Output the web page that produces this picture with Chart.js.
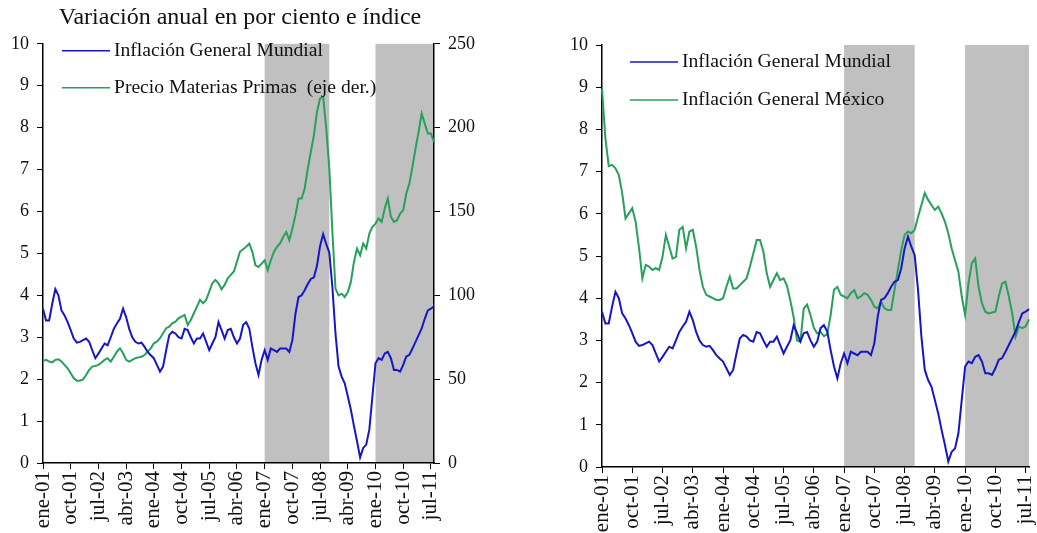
<!DOCTYPE html>
<html>
<head>
<meta charset="utf-8">
<script src="https://cdn.jsdelivr.net/npm/chart.js@4.4.1/dist/chart.umd.min.js"></script>
<style>
  body { margin: 0; background: #fff; }
  canvas { position: absolute; top: 0; }
  #left { left: 0; }
  #right { left: 530px; }
</style>
</head>
<body>
<canvas id="left" width="480" height="533"></canvas>
<canvas id="right" width="507" height="533"></canvas>
<script>
// monthly categories ene-01 .. ago-11
const monthNames = ["ene", "feb", "mar", "abr", "may", "jun", "jul", "ago", "sep", "oct", "nov", "dic"];
const labels = [];
for (let y = 1; y <= 11; y++) {
  for (let m = 0; m < 12; m++) {
    if (y === 11 && m > 7) break;
    labels.push(monthNames[m] + "-" + String(y).padStart(2, "0"));
  }
}

// Inflación General Mundial (%)
const inflacionMundial = [
  3.68, 3.40, 3.40, 3.80, 4.15, 4.00, 3.64, 3.52, 3.36, 3.17,
  2.97, 2.87, 2.89, 2.93, 2.97, 2.89, 2.69, 2.50, 2.61, 2.73,
  2.85, 2.81, 3.00, 3.20, 3.33, 3.44, 3.68, 3.48, 3.20, 3.00,
  2.89, 2.85, 2.87, 2.77, 2.65, 2.57, 2.50, 2.34, 2.18, 2.30,
  2.69, 3.05, 3.13, 3.09, 3.00, 2.97, 3.20, 3.17, 3.00, 2.85,
  2.97, 2.97, 3.09, 2.89, 2.69, 2.85, 3.00, 3.36, 3.17, 2.97,
  3.17, 3.20, 3.00, 2.85, 2.97, 3.29, 3.36, 3.21, 2.77, 2.38,
  2.10, 2.46, 2.69, 2.46, 2.73, 2.69, 2.65, 2.73, 2.73, 2.73,
  2.65, 2.93, 3.56, 3.96, 4.00, 4.12, 4.27, 4.39, 4.43, 4.71,
  5.18, 5.46, 5.22, 5.02, 4.19, 3.09, 2.30, 2.06, 1.90, 1.59,
  1.27, 0.88, 0.52, 0.13, 0.36, 0.44, 0.80, 1.59, 2.38, 2.50,
  2.46, 2.61, 2.65, 2.50, 2.22, 2.22, 2.18, 2.34, 2.54, 2.58,
  2.73, 2.89, 3.05, 3.21, 3.44, 3.64, 3.68, 3.74
];

// Precio Materias Primas (índice, eje der.)
const materiasPrimas = [
  60.9, 61.5, 60.5, 60.0, 61.5, 61.9, 60.5, 58.5, 56.5, 53.5,
  50.5, 49.1, 49.1, 49.9, 52.5, 55.5, 57.5, 57.9, 58.5, 59.9,
  61.5, 62.5, 60.5, 63.4, 66.4, 68.4, 65.4, 61.5, 60.5, 61.5,
  62.5, 63.0, 63.4, 64.4, 66.4, 68.4, 71.4, 72.4, 74.4, 77.4,
  80.4, 81.3, 83.3, 84.3, 86.3, 87.3, 88.3, 82.3, 85.3, 89.3,
  93.3, 97.3, 95.3, 97.3, 102.2, 107.2, 109.2, 107.2, 103.6, 106.2,
  110.2, 112.2, 114.2, 120.1, 126.1, 127.5, 129.0, 130.9, 125.9, 117.9,
  116.9, 118.9, 120.9, 115.0, 120.9, 125.9, 128.9, 130.9, 134.8, 137.8,
  132.9, 139.8, 147.8, 157.7, 157.7, 163.7, 175.6, 185.6, 195.5, 209.4,
  217.4, 218.4, 199.5, 175.6, 137.8, 104.0, 100.0, 101.0, 99.0, 102.0,
  108.0, 119.9, 127.9, 123.9, 130.9, 127.9, 136.8, 140.8, 142.8, 145.8,
  143.8, 151.8, 157.7, 146.8, 143.8, 144.8, 148.8, 150.8, 160.7, 166.7,
  176.6, 187.5, 197.5, 208.4, 202.4, 196.5, 196.5, 191.5
];

// Inflación General México (%)
const inflacionMexico = [
  8.96, 7.80, 7.13, 7.16, 7.08, 6.92, 6.49, 5.89, 6.01, 6.13,
  5.81, 5.20, 4.47, 4.79, 4.75, 4.67, 4.71, 4.67, 4.98, 5.50,
  5.22, 4.94, 4.98, 5.62, 5.69, 5.18, 5.58, 5.62, 5.22, 4.67,
  4.27, 4.08, 4.04, 4.00, 3.96, 3.96, 4.00, 4.27, 4.51, 4.23,
  4.23, 4.31, 4.39, 4.47, 4.75, 5.06, 5.38, 5.38, 5.10, 4.59,
  4.27, 4.43, 4.59, 4.43, 4.47, 4.30, 3.95, 3.55, 3.00, 2.97,
  3.75, 3.85, 3.60, 3.30, 3.17, 3.20, 3.10, 3.15, 3.60, 4.20,
  4.27, 4.08, 4.04, 4.00, 4.12, 4.19, 4.00, 4.04, 4.12, 4.08,
  3.96, 3.80, 3.76, 3.92, 3.76, 3.72, 3.72, 4.19, 4.67, 5.14,
  5.50, 5.58, 5.54, 5.62, 5.93, 6.21, 6.49, 6.33, 6.21, 6.09,
  6.17, 6.01, 5.81, 5.54, 5.18, 4.90, 4.63, 4.04, 3.60, 4.35,
  4.83, 4.94, 4.27, 3.88, 3.68, 3.64, 3.66, 3.68, 4.04, 4.35,
  4.39, 4.04, 3.64, 3.09, 3.33, 3.29, 3.33, 3.50
];

// shaded periods
const shadeStart = ["ene-07", "ene-10"];
const shadeEnd = ["oct-08", "ago-11"];

const azul = "#1616c8";
const verde = "#27a05c";
const serif = '"Liberation Serif", "Times New Roman", serif';

Chart.defaults.font.family = serif;
Chart.defaults.color = "#111";

const bandPlugin = {
  id: "bands",
  beforeDraw(chart) {
    const x = chart.scales.x, a = chart.chartArea, ctx = chart.ctx;
    ctx.save();
    ctx.fillStyle = "#c0c0c0";
    shadeStart.forEach((s, k) => {
      const x1 = x.getPixelForValue(labels.indexOf(s));
      const x2 = x.getPixelForValue(labels.indexOf(shadeEnd[k]));
      ctx.fillRect(x1, a.top, x2 - x1, a.bottom - a.top);
    });
    ctx.restore();
  }
};

function legendPlugin(rows) {
  return {
    id: "legendBox",
    afterDraw(chart) {
      const ctx = chart.ctx, a = chart.chartArea;
      ctx.save();
      ctx.font = "19.6px " + serif;
      ctx.textBaseline = "middle";
      ctx.fillStyle = "#111";
      chart.data.datasets.forEach((ds, k) => {
        const r = rows[k];
        ctx.strokeStyle = ds.borderColor;
        ctx.lineWidth = 1.5;
        ctx.beginPath();
        ctx.moveTo(a.left + r.x, a.top + r.y);
        ctx.lineTo(a.left + r.x + 48, a.top + r.y);
        ctx.stroke();
        ctx.fillText(ds.label, a.left + r.x + 52, a.top + r.y);
      });
      ctx.restore();
    }
  };
}

function xAxis(h) {
  return {
    type: "category",
    offset: false,
    grid: { drawOnChartArea: false, tickLength: 6, color: "#000" },
    border: { color: "#000", width: 1.5 },
    ticks: {
      autoSkip: false, minRotation: 90, maxRotation: 90, padding: 2,
      font: { size: 21 },
      callback: function (v, i) { return i % 9 === 0 ? this.getLabelForValue(v) : null; }
    },
    afterFit: (s) => { s.height = h; s.paddingRight = 0; }
  };
}

function yAxis(pos, max, step, w) {
  return {
    position: pos, min: 0, max: max,
    grid: { drawOnChartArea: false, tickLength: 6, color: "#000" },
    border: { color: "#000", width: 1.5 },
    ticks: { stepSize: step, padding: 8, font: { size: 18 } },
    afterFit: (s) => { s.width = w; }
  };
}

new Chart(document.getElementById("left"), {
  type: "line",
  data: {
    labels: labels,
    datasets: [
      { label: "Inflación General Mundial", data: inflacionMundial, yAxisID: "y", borderColor: azul, borderWidth: 2, pointRadius: 0, tension: 0 },
      { label: "Precio Materias Primas  (eje der.)", data: materiasPrimas, yAxisID: "y2", borderColor: verde, borderWidth: 2, pointRadius: 0, tension: 0 }
    ]
  },
  options: {
    responsive: false,
    animation: false,
    layout: { padding: 0 },
    plugins: {
      legend: { display: false },
      tooltip: { enabled: false },
      title: {
        display: true,
        text: "Variación anual en por ciento e índice",
        font: { size: 24, weight: "normal" },
        color: "#111",
        padding: { top: 3, bottom: 12 }
      }
    },
    scales: {
      x: xAxis(70),
      y: yAxis("left", 10, 1, 43),
      y2: yAxis("right", 250, 50, 46)
    }
  },
  plugins: [bandPlugin, legendPlugin([{ x: 19, y: 7 }, { x: 19, y: 44 }])]
});

new Chart(document.getElementById("right"), {
  type: "line",
  data: {
    labels: labels,
    datasets: [
      { label: "Inflación General Mundial", data: inflacionMundial, borderColor: azul, borderWidth: 2, pointRadius: 0, tension: 0 },
      { label: "Inflación General México", data: inflacionMexico, borderColor: verde, borderWidth: 2, pointRadius: 0, tension: 0 }
    ]
  },
  options: {
    responsive: false,
    animation: false,
    layout: { padding: { top: 45, right: 8, left: 0, bottom: 0 } },
    plugins: {
      legend: { display: false },
      tooltip: { enabled: false }
    },
    scales: {
      x: xAxis(66),
      y: yAxis("left", 10, 1, 72)
    }
  },
  plugins: [bandPlugin, legendPlugin([{ x: 28, y: 17 }, { x: 28, y: 55 }])]
});
</script>
</body>
</html>
